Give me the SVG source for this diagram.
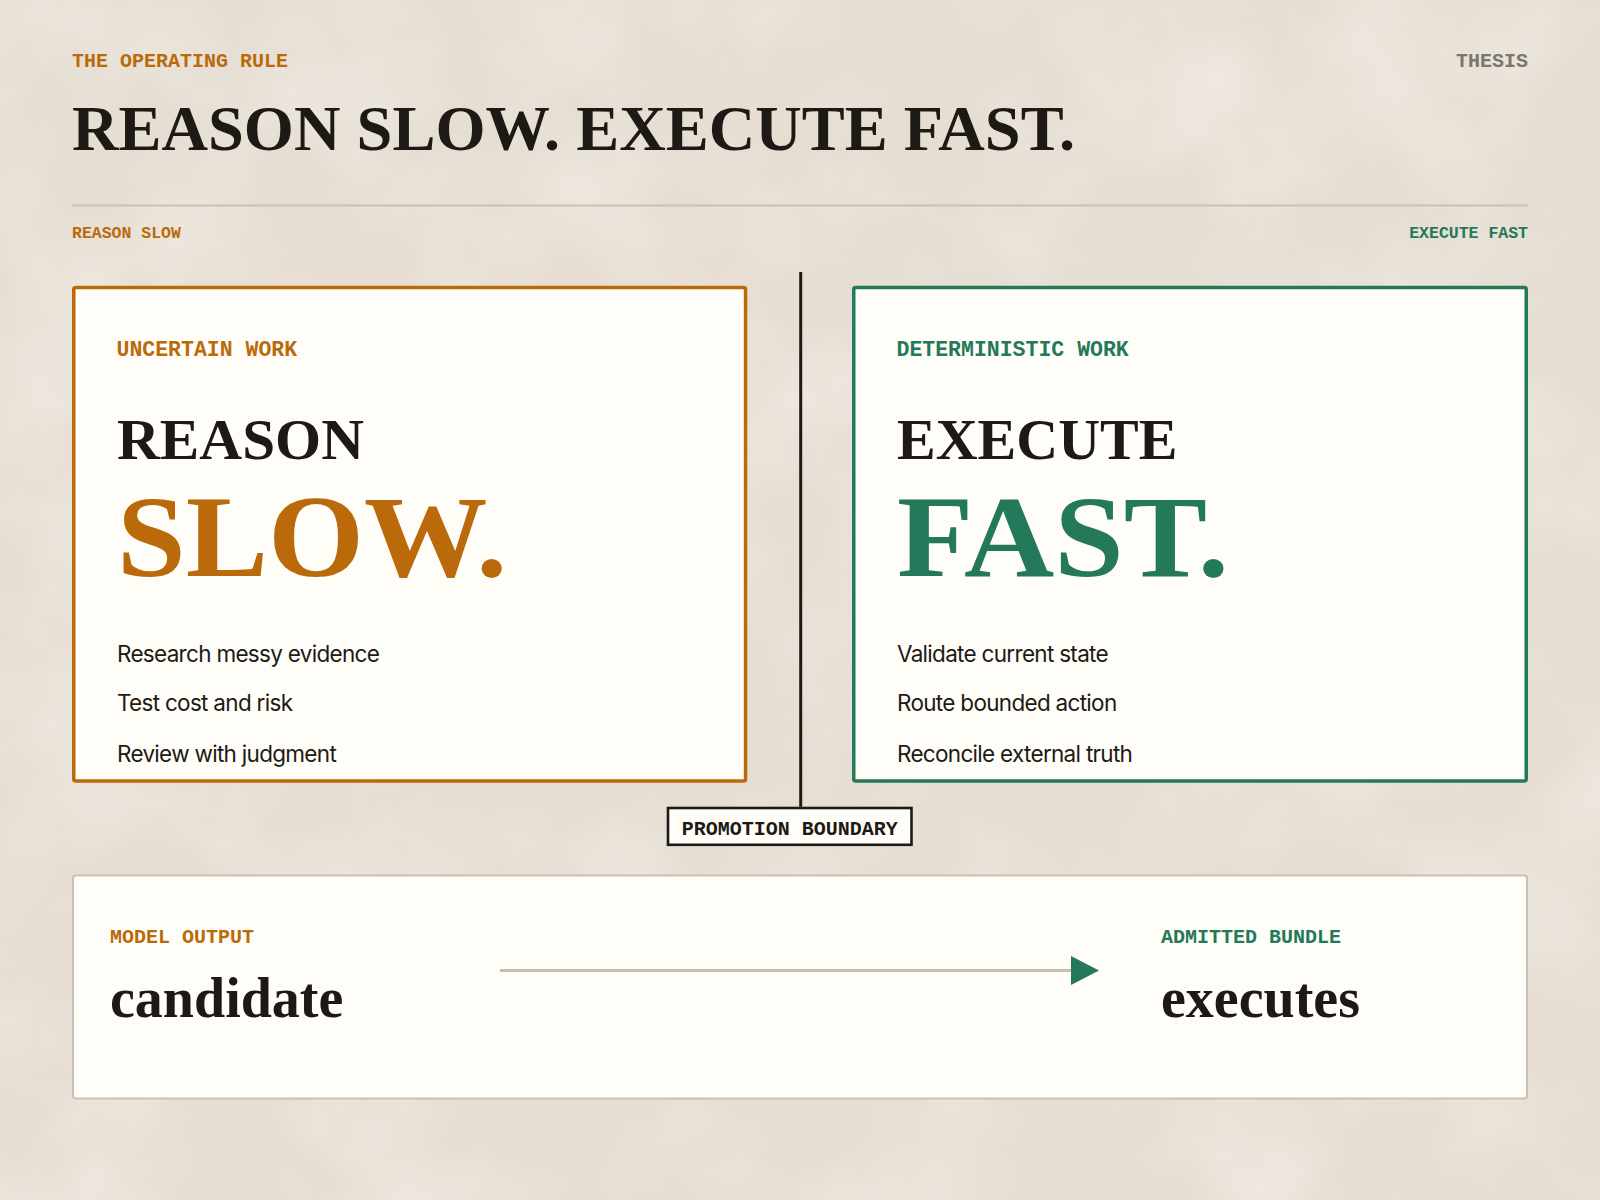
<svg xmlns="http://www.w3.org/2000/svg" width="1600" height="1200" viewBox="0 0 1600 1200">
  <style>
    .mono { font-family: "Liberation Mono", "DejaVu Sans Mono", monospace; font-weight: bold; }
    .serif { font-family: "Liberation Serif", "Times New Roman", serif; font-weight: bold; }
    .sans { font-family: Inter, "Noto Sans", "Liberation Sans", sans-serif; font-weight: normal; }
    .orange { fill: #bb6a0b; }
    .green { fill: #23795a; }
    .ink { fill: #1d1a15; }
    .muted { fill: #7c776c; }
    .card { fill: #fffdf7; }
    .item { font-size: 22.5px; letter-spacing: -0.7px; }
  </style>
  <defs>
    <filter id="paper" x="0" y="0" width="100%" height="100%">
      <feTurbulence type="fractalNoise" baseFrequency="0.006" numOctaves="4" seed="7"/>
      <feColorMatrix type="matrix" values="0 0 0 0 1  0 0 0 0 1  0 0 0 0 1  0.7 0 0 0 -0.3"/>
    </filter>
    <marker id="head" viewBox="0 0 28 29" refX="0" refY="14.5" markerWidth="28" markerHeight="29" markerUnits="userSpaceOnUse" orient="auto">
      <path d="M0,0 L28,14.5 L0,29 Z" fill="#23795a"/>
    </marker>
  </defs>

  <rect width="1600" height="1200" fill="#e6ded3"/>
  <rect width="1600" height="1200" filter="url(#paper)"/>

  <g id="header">
    <text class="mono orange" x="72" y="67" font-size="20">THE OPERATING RULE</text>
    <text class="mono muted" x="1528" y="67" font-size="20" text-anchor="end">THESIS</text>
    <text class="serif ink" x="72" y="150" font-size="63" textLength="1003" lengthAdjust="spacingAndGlyphs">REASON SLOW. EXECUTE FAST.</text>
    <line x1="72" y1="205.5" x2="1528" y2="205.5" stroke="#cbc1b0" stroke-width="2"/>
    <text class="mono orange" x="72" y="238" font-size="16.5">REASON SLOW</text>
    <text class="mono green" x="1528" y="238" font-size="16.5" text-anchor="end">EXECUTE FAST</text>
  </g>

  <g id="reason-slow">
    <rect class="card" x="73.75" y="287.5" width="671.8" height="493.5" rx="2" stroke="#bb6a0b" stroke-width="3.5"/>
    <text class="mono orange" x="116.5" y="356" font-size="21.5">UNCERTAIN WORK</text>
    <text class="serif ink" x="117" y="458.5" font-size="58" textLength="247" lengthAdjust="spacingAndGlyphs">REASON</text>
    <text class="serif orange" x="117" y="576" font-size="116" textLength="390" lengthAdjust="spacingAndGlyphs">SLOW.</text>
    <text class="sans ink item" x="117" y="661.5">Research messy evidence</text>
    <text class="sans ink item" x="117" y="711">Test cost and risk</text>
    <text class="sans ink item" x="117" y="761.5">Review with judgment</text>
  </g>

  <g id="execute-fast">
    <rect class="card" x="853.75" y="287.5" width="672.5" height="493.5" rx="2" stroke="#23795a" stroke-width="3.5"/>
    <text class="mono green" x="896.5" y="356" font-size="21.5">DETERMINISTIC WORK</text>
    <text class="serif ink" x="897" y="458.5" font-size="58">EXECUTE</text>
    <text class="serif green" x="897" y="576" font-size="116" textLength="332" lengthAdjust="spacingAndGlyphs">FAST.</text>
    <text class="sans ink item" x="897" y="661.5">Validate current state</text>
    <text class="sans ink item" x="897" y="711">Route bounded action</text>
    <text class="sans ink item" x="897" y="761.5">Reconcile external truth</text>
  </g>

  <g id="promotion-boundary">
    <rect class="card" x="668" y="808" width="243.5" height="36.8" stroke="#1d1a15" stroke-width="2.6"/>
    <text class="mono ink" x="789.7" y="835" font-size="20" text-anchor="middle">PROMOTION BOUNDARY</text>
  </g>

  <g id="flow">
    <rect class="card" x="73" y="875.5" width="1454" height="223" rx="3" stroke="#cbc1b1" stroke-width="2"/>
    <text class="mono orange" x="110" y="943" font-size="20">MODEL OUTPUT</text>
    <text class="serif ink" x="110" y="1017" font-size="56">candidate</text>
    <text class="mono green" x="1161" y="943" font-size="20">ADMITTED BUNDLE</text>
    <text class="serif ink" x="1161" y="1017" font-size="56">executes</text>
  </g>

  <g id="connectors">
    <line x1="800.7" y1="272" x2="800.7" y2="806.7" stroke="#1d1a15" stroke-width="3"/>
    <line x1="500" y1="970.5" x2="1071" y2="970.5" stroke="#c8bead" stroke-width="3" marker-end="url(#head)"/>
  </g>
</svg>
